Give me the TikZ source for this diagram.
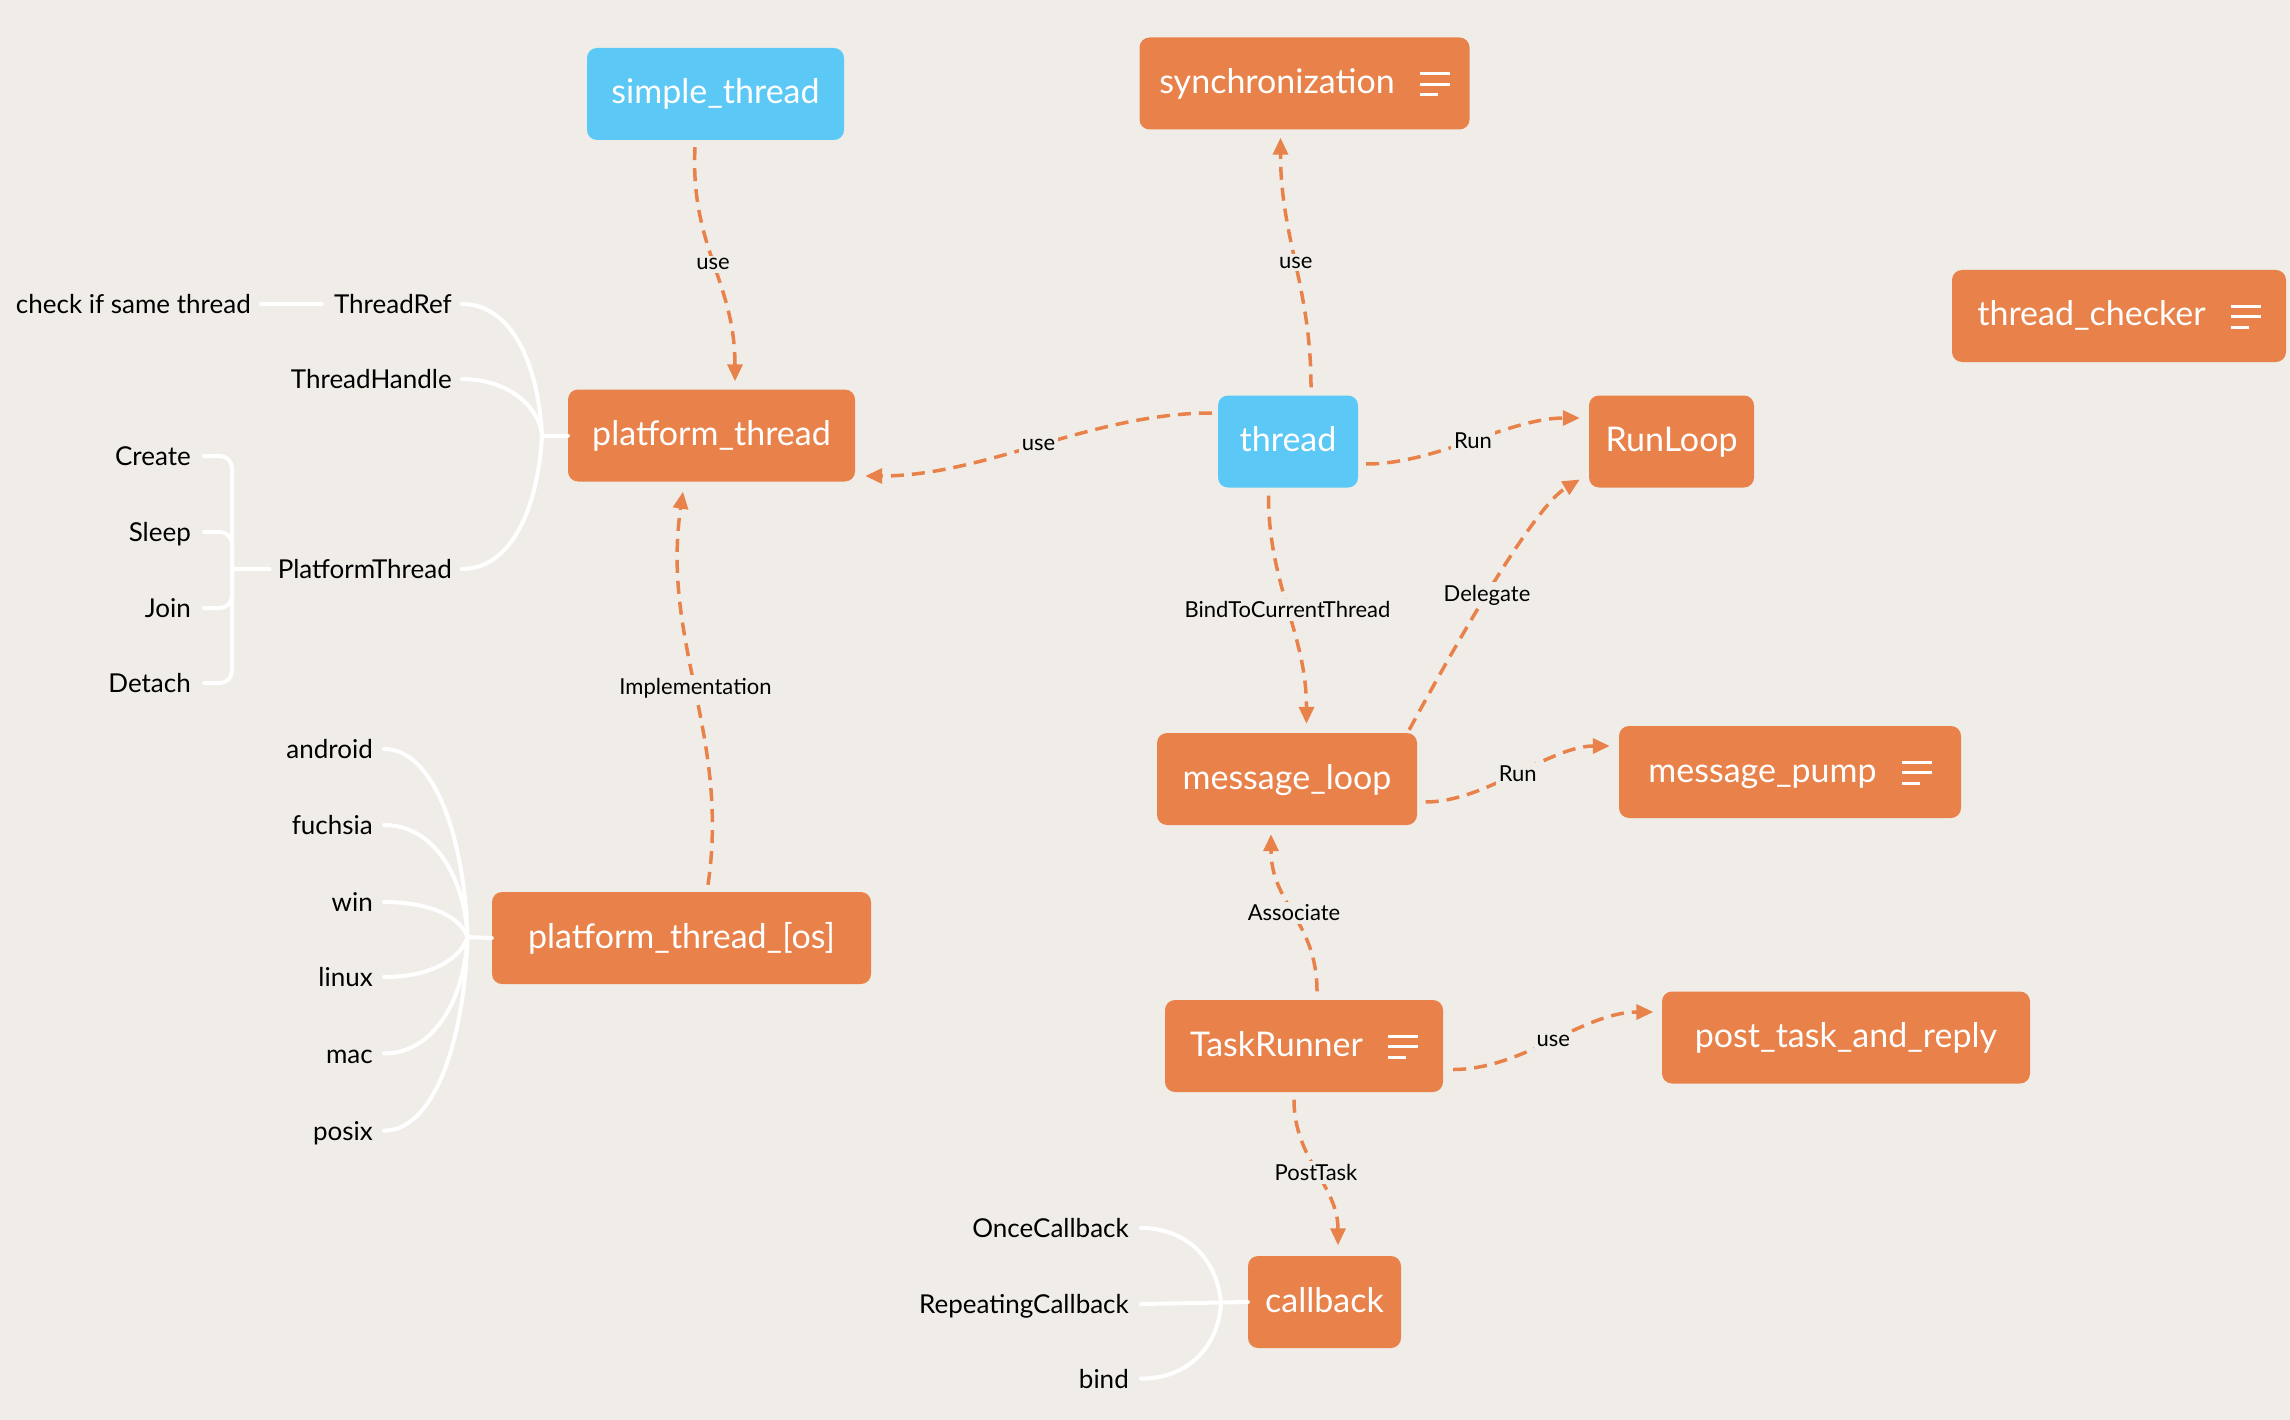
\documentclass[tikz,border=0pt]{standalone}
\usepackage{fontspec}
\setmainfont{Lato}
\usetikzlibrary{arrows.meta}
\definecolor{bgc}{HTML}{F0EDE8}
\definecolor{orng}{HTML}{E8824A}
\definecolor{skyb}{HTML}{5BC8F5}
\newcommand\menuicon{\raisebox{\dimexpr0.27em-12pt\relax}{\vbox{\hrule width 30pt height 3pt\vskip 7.5pt\hrule width 30pt height 3pt\vskip 7.5pt\hrule width 18pt height 3pt}}}
\tikzset{
  box/.style={rounded corners=10pt, fill=orng, text=white, font=\fontsize{34}{40}\selectfont, inner sep=0pt, minimum height=92pt, text height=22pt, text depth=2pt},
  bluebox/.style={box, fill=skyb},
  leaf/.style={font=\fontsize{26}{30}\selectfont, inner sep=0pt, text=black, text height=19pt, text depth=0pt},
  elabel/.style={font=\fontsize{22}{26}\selectfont, fill=bgc, inner sep=3pt, text=black},
  rel/.style={draw=orng, line width=3.5pt, dash pattern=on 13pt off 8pt, -{Triangle[length=17pt,width=15pt]}},
  branch/.style={draw=white, line width=4pt, line cap=round},
}
\begin{document}
\begin{tikzpicture}[x=1pt,y=-1pt]
\useasboundingbox (0,0) rectangle (2290,1420);
\fill[bgc] (0,0) rectangle (2290,1420);

% main boxes
\node[bluebox, minimum width=257pt] (simple) at (715.5,94) {simple\_thread};
\node[box, minimum width=330pt] (sync) at (1304.5,83.5) {synchronization\hspace{25pt}\menuicon};
\node[box, minimum width=334pt] (checker) at (2119,316) {thread\_checker\hspace{25pt}\menuicon};
\node[box, minimum width=287pt] (pthread) at (711.5,435.5) {platform\_thread};
\node[bluebox, minimum width=140pt] (thread) at (1288,441.5) {thread};
\node[box, minimum width=165pt] (runloop) at (1671.5,441.5) {RunLoop};
\node[box, minimum width=260pt] (mloop) at (1287,779) {message\_loop};
\node[box, minimum width=342pt] (mpump) at (1790,772) {message\_pump\hspace{25pt}\menuicon};
\node[box, minimum width=379pt] (pos) at (681.5,938) {platform\_thread\_[os]};
\node[box, minimum width=278pt] (taskrunner) at (1304,1046) {TaskRunner\hspace{25pt}\menuicon};
\node[box, minimum width=368pt] (ptar) at (1846,1037.5) {post\_task\_and\_reply};
\node[box, minimum width=153pt] (callback) at (1324.5,1302) {callback};

% platform_thread leaves
\node[leaf, anchor=east] (check) at (251,304) {check if same thread};
\node[leaf, anchor=east] (tref) at (452,304) {ThreadRef};
\node[leaf, anchor=east] (thandle) at (452,379) {ThreadHandle};
\node[leaf, anchor=east] (pthr) at (452,569) {PlatformThread};
\node[leaf, anchor=east] (create) at (191,456) {Create};
\node[leaf, anchor=east] (sleep) at (191,532) {Sleep};
\node[leaf, anchor=east] (join) at (191,608) {Join};
\node[leaf, anchor=east] (detach) at (191,683) {Detach};

% os leaves
\node[leaf, anchor=east] (android) at (373,749) {android};
\node[leaf, anchor=east] (fuchsia) at (373,825) {fuchsia};
\node[leaf, anchor=east] (win) at (373,902) {win};
\node[leaf, anchor=east] (linux) at (373,977) {linux};
\node[leaf, anchor=east] (mac) at (373,1053.5) {mac};
\node[leaf, anchor=east] (posix) at (373,1130.7) {posix};

% callback leaves
\node[leaf, anchor=east] (once) at (1129,1228) {OnceCallback};
\node[leaf, anchor=east] (rep) at (1129,1304) {RepeatingCallback};
\node[leaf, anchor=east] (bind) at (1129,1378.6) {bind};

% branches: platform_thread
\coordinate (j1) at (542,435.5);
\draw[branch] ([xshift=10pt]check.east) -- ([xshift=-12pt]tref.west);
\draw[branch] ([xshift=10pt]tref.east) .. controls +(48,0) and +(-4,-75) .. (j1);
\draw[branch] ([xshift=10pt]thandle.east) .. controls +(45,0) and +(-3,-30) .. (j1);
\draw[branch] ([xshift=10pt]pthr.east) .. controls +(48,0) and +(-4,75) .. (j1);
\draw[branch] (j1) -- (pthread.west);

\coordinate (j2) at (232,569);
\draw[branch, rounded corners=12pt] ([xshift=13pt]create.east) -| (j2);
\draw[branch, rounded corners=12pt] ([xshift=13pt]sleep.east) -| (j2);
\draw[branch, rounded corners=12pt] ([xshift=13pt]join.east) -| (j2);
\draw[branch, rounded corners=12pt] ([xshift=13pt]detach.east) -| (j2);
\draw[branch] (j2) -- ([xshift=-8pt]pthr.west);

% branches: os
\coordinate (j3) at (467.5,937);
\draw[branch] ([xshift=11pt]android.east) .. controls +(50,0) and +(-3,-100) .. (j3);
\draw[branch] ([xshift=11pt]fuchsia.east) .. controls +(50,0) and +(-3,-60) .. (j3);
\draw[branch] ([xshift=11pt]win.east) .. controls +(50,0) and +(-6,-18) .. (j3);
\draw[branch] ([xshift=11pt]linux.east) .. controls +(50,0) and +(-6,20) .. (j3);
\draw[branch] ([xshift=11pt]mac.east) .. controls +(50,0) and +(-3,62) .. (j3);
\draw[branch] ([xshift=11pt]posix.east) .. controls +(50,0) and +(-3,104) .. (j3);
\draw[branch] (j3) -- (pos.west);

% branches: callback
\coordinate (j4) at (1221,1304);
\draw[branch] ([xshift=12pt]once.east) .. controls +(48,0) and +(-3,-42) .. (j4);
\draw[branch] ([xshift=12pt]rep.east) -- (callback.west);
\draw[branch] ([xshift=12pt]bind.east) .. controls +(48,0) and +(-3,42) .. (j4);

% relations
\draw[rel] ([shift={(-20.5,7)}]simple.south) .. controls +(-5,100) and +(0,-100) .. ([shift={(23.5,-8)}]pthread.north) node[elabel, pos=0.5] {use};
\draw[rel] ([shift={(23,-8)}]thread.north) .. controls +(0,-100) and +(0,100) .. ([shift={(-24,8)}]sync.south) node[elabel, pos=0.5] {use};
\draw[rel] ([shift={(-6,-28.5)}]thread.west) .. controls +(-120,0) and +(120,0) .. ([shift={(10,40.5)}]pthread.east) node[elabel, pos=0.5] {use};
\draw[rel] ([shift={(8,22.5)}]thread.east) .. controls +(70,0) and +(-70,0) .. ([shift={(-9,-23.5)}]runloop.west) node[elabel, pos=0.5] {Run};
\draw[rel] ([shift={(-19.5,8)}]thread.south) .. controls +(0,90) and +(0,-90) .. ([shift={(19.5,-9)}]mloop.north) node[elabel, pos=0.5] {BindToCurrentThread};
\draw[rel] ([shift={(-8,-3)}]mloop.north east) .. controls +(30,-55) and +(-50,30) .. ([shift={(-9,38)}]runloop.west) node[elabel, pos=0.5] {Delegate};
\draw[rel] ([shift={(8.5,23)}]mloop.east) .. controls +(60,0) and +(-60,0) .. ([shift={(-9,-26)}]mpump.west) node[elabel, pos=0.5] {Run};
\draw[rel] ([shift={(13,-8.5)}]taskrunner.north) .. controls +(0,-70) and +(0,70) .. ([shift={(-16,9)}]mloop.south) node[elabel, pos=0.5] {Associate};
\draw[rel] ([shift={(10,23.5)}]taskrunner.east) .. controls +(70,0) and +(-70,0) .. ([shift={(-8.5,-25.5)}]ptar.west) node[elabel, pos=0.5] {use};
\draw[rel] ([shift={(-10,7.5)}]taskrunner.south) .. controls +(0,60) and +(0,-60) .. ([shift={(13.5,-10.5)}]callback.north) node[elabel, pos=0.5] {PostTask};
\draw[rel] ([shift={(26.5,-7)}]pos.north) .. controls +(22,-150) and +(-22,150) .. ([shift={(-28.5,10)}]pthread.south) node[elabel, pos=0.5] {Implementation};
\end{tikzpicture}
\end{document}
